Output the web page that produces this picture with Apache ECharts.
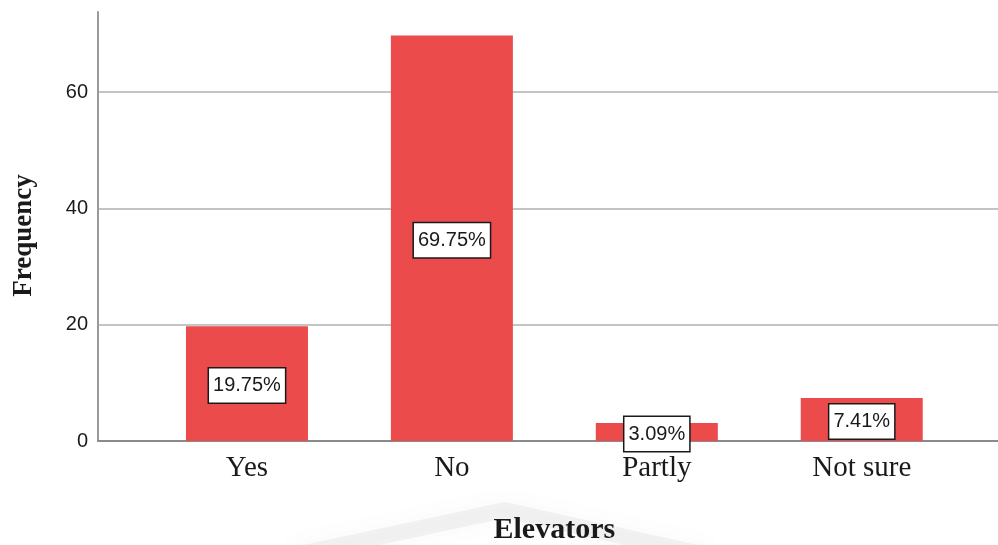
<!DOCTYPE html>
<html>
<head>
<meta charset="utf-8">
<script src="https://cdn.jsdelivr.net/npm/echarts@6/dist/echarts.min.js"></script>
<style>
  html, body { margin: 0; padding: 0; background: #ffffff; }
  #chart { width: 998px; height: 545px; }
</style>
</head>
<body>
<div id="chart"></div>
<script>
// Survey answers about elevators (share of respondents, %)
const categories = ['Yes', 'No', 'Partly', 'Not sure'];
const values = [19.75, 69.75, 3.09, 7.41];
const yTicks = [0, 20, 40, 60];

const yMin = 0;
const yMax = 73.8;

const chart = echarts.init(document.getElementById('chart'));

chart.setOption({
  backgroundColor: '#ffffff',
  animation: false,
  grid: [
    // frame: y axis, gridlines and baseline span the full width
    { left: 98, right: 0, top: 12, bottom: 104, outerBoundsMode: 'none', containLabel: false },
    // bars and category labels
    { left: 144.5, right: 33.8, top: 12, bottom: 104, outerBoundsMode: 'none', containLabel: false }
  ],
  xAxis: [
    {
      gridIndex: 0,
      type: 'category',
      data: [''],
      axisLine: { show: true, lineStyle: { color: '#8a8a8a', width: 2 } },
      axisTick: { show: false },
      axisLabel: { show: false },
      splitLine: { show: false }
    },
    {
      gridIndex: 1,
      type: 'category',
      data: categories,
      axisLine: { show: false },
      axisTick: { show: false },
      axisLabel: {
        margin: 13,
        fontFamily: 'Liberation Serif',
        fontSize: 29,
        color: '#1a1a1a'
      },
      name: 'Elevators',
      nameLocation: 'middle',
      nameGap: 74,
      nameTextStyle: {
        fontFamily: 'Liberation Serif',
        fontWeight: 'bold',
        fontSize: 30,
        color: '#1a1a1a'
      }
    }
  ],
  yAxis: [
    {
      gridIndex: 0,
      type: 'value',
      min: yMin,
      max: yMax,
      interval: 20,
      axisLine: { show: true, lineStyle: { color: '#9a9a9a', width: 2 } },
      axisTick: { show: false },
      axisLabel: {
        margin: 10,
        fontFamily: 'Liberation Sans',
        fontSize: 20,
        color: '#1a1a1a',
        showMaxLabel: false,
        formatter: v => (yTicks.indexOf(v) >= 0 ? String(v) : '')
      },
      splitLine: {
        show: true,
        showMinLine: false,
        showMaxLine: false,
        lineStyle: { color: '#c4c4c4', width: 2 }
      },
      name: 'Frequency',
      nameLocation: 'middle',
      nameGap: 60,
      nameRotate: 90,
      nameTextStyle: {
        fontFamily: 'Liberation Serif',
        fontWeight: 'bold',
        fontSize: 27,
        color: '#1a1a1a',
        padding: [0, 18, 0, 0]
      }
    },
    {
      gridIndex: 1,
      type: 'value',
      min: yMin,
      max: yMax,
      show: false,
      splitLine: { show: false }
    }
  ],
  series: [
    {
      type: 'bar',
      xAxisIndex: 1,
      yAxisIndex: 1,
      data: values,
      barWidth: 122,
      itemStyle: { color: '#ec4b4c' },
      label: {
        show: true,
        position: 'inside',
        offset: [0, 2],
        formatter: p => p.value.toFixed(2) + '%',
        fontFamily: 'Liberation Sans',
        fontSize: 20,
        lineHeight: 24,
        color: '#1a1a1a',
        backgroundColor: '#ffffff',
        borderColor: '#1a1a1a',
        borderWidth: 1.5,
        padding: [5, 4, 5, 4]
      },
      z: 3
    }
  ],
  graphic: [
    // faint grey roof-shaped shading behind the axis title
    {
      type: 'polyline',
      z: -1,
      silent: true,
      shape: { points: [[290, 556], [505, 510], [710, 556]] },
      style: {
        fill: null,
        stroke: 'rgba(150,150,150,0.10)',
        lineWidth: 16,
        lineJoin: 'round',
        shadowBlur: 22,
        shadowColor: 'rgba(110,110,110,0.45)'
      }
    }
  ]
});
</script>
</body>
</html>
